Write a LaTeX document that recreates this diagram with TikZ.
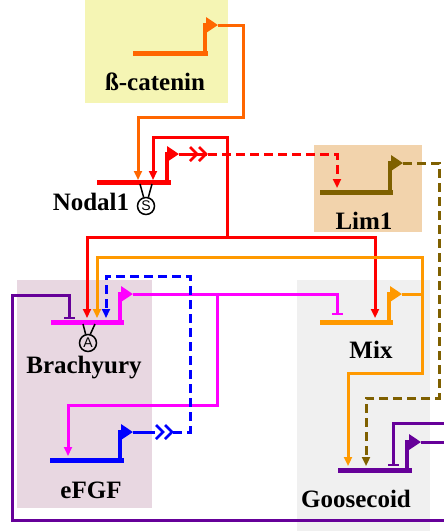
\documentclass[tikz,border=0pt]{standalone}
\usepackage{fontspec}
\setmainfont{Liberation Serif}
\setsansfont{Liberation Sans}
\usetikzlibrary{arrows.meta}
\definecolor{cBcat}{HTML}{FF6600}
\definecolor{cNodal}{HTML}{FF0000}
\definecolor{cLim}{HTML}{7F6000}
\definecolor{cBra}{HTML}{FF00FF}
\definecolor{cMix}{HTML}{FF9900}
\definecolor{cFGF}{HTML}{0000FF}
\definecolor{cGsc}{HTML}{660099}
\definecolor{bgYellow}{HTML}{F5F5B4}
\definecolor{bgTan}{HTML}{F2D3AC}
\definecolor{bgPink}{HTML}{E8D7E1}
\definecolor{bgGray}{HTML}{F0F0F0}
\begin{document}
\begin{tikzpicture}[x=1pt,y=-1pt,
  genebar/.style={line width=5pt},
  prom/.style={line width=4pt,-{Triangle[length=12pt,width=15pt]}},
  link/.style={line width=3pt},
  act/.style={link,-{Triangle[length=9pt,width=8pt]}},
  actboth/.style={link,{Triangle[length=9pt,width=8pt]}-{Triangle[length=9pt,width=8pt]}},
  inh/.style={link,-{Bar[width=11pt,line width=2.5pt]}},
  dsh/.style={dash pattern=on 9pt off 5pt},
  chev/.style={line width=2.5pt},
  lbl/.style={font=\fontsize{25}{25}\selectfont\bfseries,anchor=base,inner sep=0pt},
  sym/.style={circle,draw,line width=1.5pt,minimum size=17pt,inner sep=0pt,font=\sffamily\fontsize{14}{14}\selectfont},
  symleg/.style={line width=1.5pt}
]
\useasboundingbox (0,0) rectangle (444,531);
% backgrounds
\fill[bgYellow] (85,0) rectangle (228,103);
\fill[bgTan] (314,145) rectangle (422,232);
\fill[bgPink] (17,280) rectangle (152,508);
\fill[bgGray] (297,280) rectangle (430,531);

% ---- coordinates
% beta-catenin
\coordinate (bcL) at (133,53); \coordinate (bcR) at (208,53);
\coordinate (bcP) at (205,53); \coordinate (bcT) at (218,25);
\coordinate (bcA) at (243,117); \coordinate (nodIn1) at (138,180);
% Nodal1
\coordinate (nodL) at (97,182); \coordinate (nodR) at (171,182);
\coordinate (nodP) at (167,182); \coordinate (nodT) at (179,154);
\coordinate (nodC1) at (207,154); \coordinate (nodD) at (208,154);
\coordinate (limIn) at (337,188);
\coordinate (redV) at (227,237); \coordinate (redTop) at (227,137);
\coordinate (nodIn2) at (153,180);
\coordinate (braIn1) at (87,318); \coordinate (redR) at (375,237); \coordinate (mixIn1) at (375,318);
% Lim1
\coordinate (limL) at (320,192); \coordinate (limR) at (393,192);
\coordinate (limP) at (390,192); \coordinate (limT) at (403,163);
\coordinate (brnV) at (439,398); \coordinate (gscIn2) at (366,466);
% Mix
\coordinate (mixL) at (320,322); \coordinate (mixR) at (393,322);
\coordinate (mixP) at (389,322); \coordinate (mixT) at (402,294);
\coordinate (mixO) at (422,294); \coordinate (mixTop) at (422,257);
\coordinate (mixBot) at (422,373); \coordinate (braIn2) at (97,318);
\coordinate (gscIn1) at (348,466);
% Brachyury
\coordinate (braL) at (51,322); \coordinate (braR) at (124,322);
\coordinate (braP) at (120,322); \coordinate (braT) at (133,294);
\coordinate (mixInh) at (337,315); \coordinate (magV) at (217,294);
\coordinate (magC) at (68,405); \coordinate (fgfIn) at (68,456);
% eFGF
\coordinate (fgfL) at (50,460); \coordinate (fgfR) at (124,460);
\coordinate (fgfP) at (120,460); \coordinate (fgfT) at (133,432);
\coordinate (fgfC) at (155,432); \coordinate (fgfD) at (173,432);
\coordinate (bluV) at (190,276); \coordinate (braIn3) at (106,318);
% Goosecoid
\coordinate (gscL) at (338,470); \coordinate (gscR) at (412,470);
\coordinate (gscP) at (407,470); \coordinate (gscT) at (421,442);
\coordinate (gscO) at (444,442); \coordinate (gscInhSrc) at (444,423);
\coordinate (gscInh) at (393,466);
\coordinate (purSrc) at (444,520); \coordinate (purV) at (12,295);
\coordinate (braInh) at (69,319);

% ---- connectors
% beta-catenin -> Nodal1
\draw[act,cBcat] (bcT) -| (bcA) -| (nodIn1);
% Nodal1 output, secreted, to Lim1
\draw[link,cNodal] (nodT) -- (nodC1);
\draw[chev,cNodal] (190,147) -- (197,154) -- (190,161);
\draw[chev,cNodal] (199,147) -- (206,154) -- (199,161);
\draw[act,dsh,cNodal] (nodD) -| (limIn);
% Nodal1 loop and targets
\draw[act,cNodal] (redV) -- (redTop) -| (nodIn2);
\draw[actboth,cNodal] (braIn1) |- (redR) -- (mixIn1);
% Lim1 -> Goosecoid
\draw[act,dsh,cLim] (limT) -| (brnV) -| (gscIn2);
% Mix -> Brachyury, Goosecoid
\draw[link,cMix] (mixT) -- (mixO);
\draw[actboth,cMix] (braIn2) |- (mixTop) -- (mixBot) -| (gscIn1);
% Brachyury -| Mix, -> eFGF
\draw[inh,cBra] (braT) -| (mixInh);
\draw[act,cBra] (magV) |- (magC) -- (fgfIn);
% eFGF secreted -> Brachyury
\draw[link,cFGF] (fgfT) -- (fgfC);
\draw[chev,cFGF] (156,425) -- (163,432) -- (156,439);
\draw[chev,cFGF] (165,425) -- (172,432) -- (165,439);
\draw[act,dsh,cFGF] (fgfD) -| (bluV) -| (braIn3);
% Goosecoid
\draw[link,cGsc] (gscT) -- (gscO);
\draw[inh,cGsc] (gscInhSrc) -| (gscInh);
\draw[inh,cGsc] (purSrc) -| (purV) -| (braInh);

% ---- genes
\draw[genebar,cBcat] (bcL) -- (bcR);
\draw[prom,cBcat] (bcP) |- (bcT);
\draw[genebar,cNodal] (nodL) -- (nodR);
\draw[prom,cNodal] (nodP) |- (nodT);
\draw[genebar,cLim] (limL) -- (limR);
\draw[prom,cLim] (limP) |- (limT);
\draw[genebar,cMix] (mixL) -- (mixR);
\draw[prom,cMix] (mixP) |- (mixT);
\draw[genebar,cBra] (braL) -- (braR);
\draw[prom,cBra] (braP) |- (braT);
\draw[genebar,cFGF] (fgfL) -- (fgfR);
\draw[prom,cFGF] (fgfP) |- (fgfT);
\draw[genebar,cGsc] (gscL) -- (gscR);
\draw[prom,cGsc] (gscP) |- (gscT);

% ---- symbols
\node[sym] (nodS) at (146,206) {S};
\draw[symleg] (140,184) -- (nodS.105);
\draw[symleg] (152,184) -- (nodS.75);
\node[sym] (braA) at (88,343) {A};
\draw[symleg] (83,324) -- (braA.105);
\draw[symleg] (95,324) -- (braA.75);

% ---- labels
\node[lbl] (tBcat) at (155,90) {ß-catenin};
\node[lbl] (tNod) at (91,210) {Nodal1};
\node[lbl] (tLim) at (364,229) {Lim1};
\node[lbl] (tBra) at (84,373) {Brachyury};
\node[lbl] (tMix) at (371,358) {Mix};
\node[lbl] (tFGF) at (91,498) {eFGF};
\node[lbl] (tGsc) at (356,507) {Goosecoid};
\end{tikzpicture}
\end{document}
